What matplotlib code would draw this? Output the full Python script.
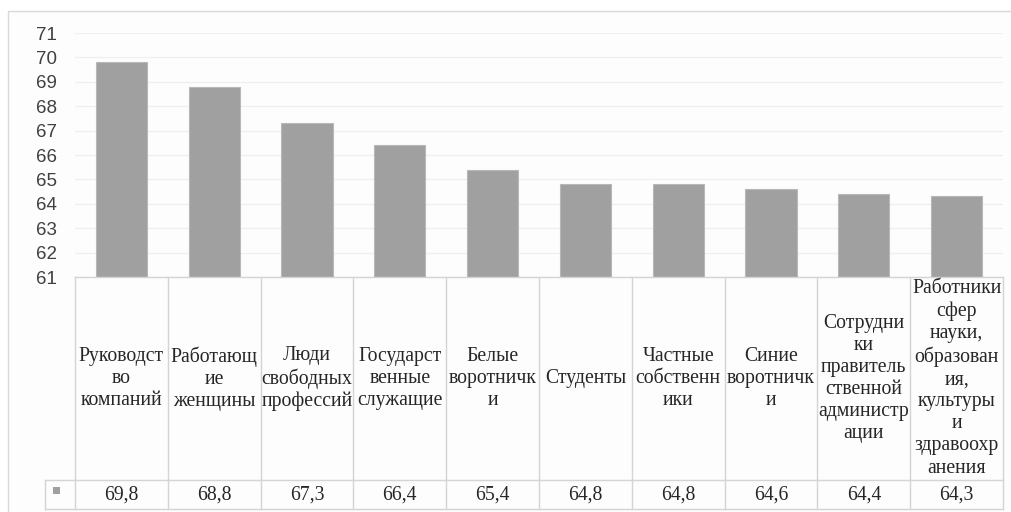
import matplotlib.pyplot as plt
from matplotlib.lines import Line2D
from matplotlib.patches import Rectangle

# категории (перенос строк как в таблице данных)
groups = ["Руководст\nво\nкомпаний", "Работающ\nие\nженщины",
          "Люди\nсвободных\nпрофессий", "Государст\nвенные\nслужащие",
          "Белые\nворотничк\nи", "Студенты", "Частные\nсобственн\nики",
          "Синие\nворотничк\nи",
          "Сотрудни\nки\nправитель\nственной\nадминистр\nации",
          "Работники\nсфер\nнауки,\nобразован\nия,\nкультуры\nи\nздравоохр\nанения"]
values = [69.8, 68.8, 67.3, 66.4, 65.4, 64.8, 64.8, 64.6, 64.4, 64.3]
yticks = list(range(61, 72))

W, H = 1012, 512
fig = plt.figure(figsize=(W / 100, H / 100), dpi=100)
fig.patch.set_facecolor('white')

def fx(px):
    return px / W

def fy(py):
    return 1 - py / H

# рамка диаграммы
fig.add_artist(Rectangle((fx(8), fy(530)), fx(1030), 519 / H, transform=fig.transFigure,
                         facecolor='#fdfdfd', edgecolor='#d9d9d9', lw=1, zorder=0))

left, right, top, bottom = 75, 1003, 33, 277
ax = fig.add_axes([fx(left), fy(bottom), fx(right - left), (bottom - top) / H])
ax.set_facecolor('none')
x = range(len(values))
ax.bar(x, values, width=0.55, bottom=0, color='#a0a0a0', edgecolor='#b8b8b8', lw=0.8, zorder=3)
ax.set_xlim(-0.5, len(values) - 0.5)
ax.set_ylim(61, 71)
ax.set_yticks(yticks)
ax.set_yticklabels([str(t) for t in yticks], fontsize=13.5, color='#404040',
                   family='Liberation Sans')
ax.tick_params(axis='y', length=0, pad=13)
ax.tick_params(axis='x', length=0, labelbottom=False)
ax.grid(axis='y', color='#efefef', lw=0.9, zorder=0)
for s in ax.spines.values():
    s.set_visible(False)

# таблица данных под осью
line_c = '#d4d4d4'

def hline(y, x0, x1):
    fig.add_artist(Line2D([fx(x0), fx(x1)], [fy(y), fy(y)], transform=fig.transFigure,
                          color=line_c, lw=1))

def vline(xp, y0, y1):
    fig.add_artist(Line2D([fx(xp), fx(xp)], [fy(y0), fy(y1)], transform=fig.transFigure,
                          color=line_c, lw=1))

row1, row2 = 480, 509
hline(bottom, left, right)
hline(row1, 45, right)
hline(row2, 45, right)
vline(45, row1, row2)
cw = (right - left) / len(values)
for i in range(len(values) + 1):
    vline(left + i * cw, bottom, row2)

serif = 'Liberation Serif'
for i, (g, v) in enumerate(zip(groups, values)):
    cx = left + (i + 0.5) * cw
    fig.text(fx(cx), fy((bottom + row1) / 2), g, ha='center', va='center',
             fontsize=14.2, family=serif, color='#262626', linespacing=1.22)
    fig.text(fx(cx), fy((row1 + row2) / 2 + 1), f"{v:.1f}".replace('.', ','),
             ha='center', va='center', fontsize=14.2, family=serif, color='#262626')

# ключ легенды
fig.add_artist(Rectangle((fx(53), fy(494)), fx(7), 7 / H, transform=fig.transFigure,
                         facecolor='#a0a0a0', edgecolor='none'))

fig.savefig('out.png', dpi=100)
